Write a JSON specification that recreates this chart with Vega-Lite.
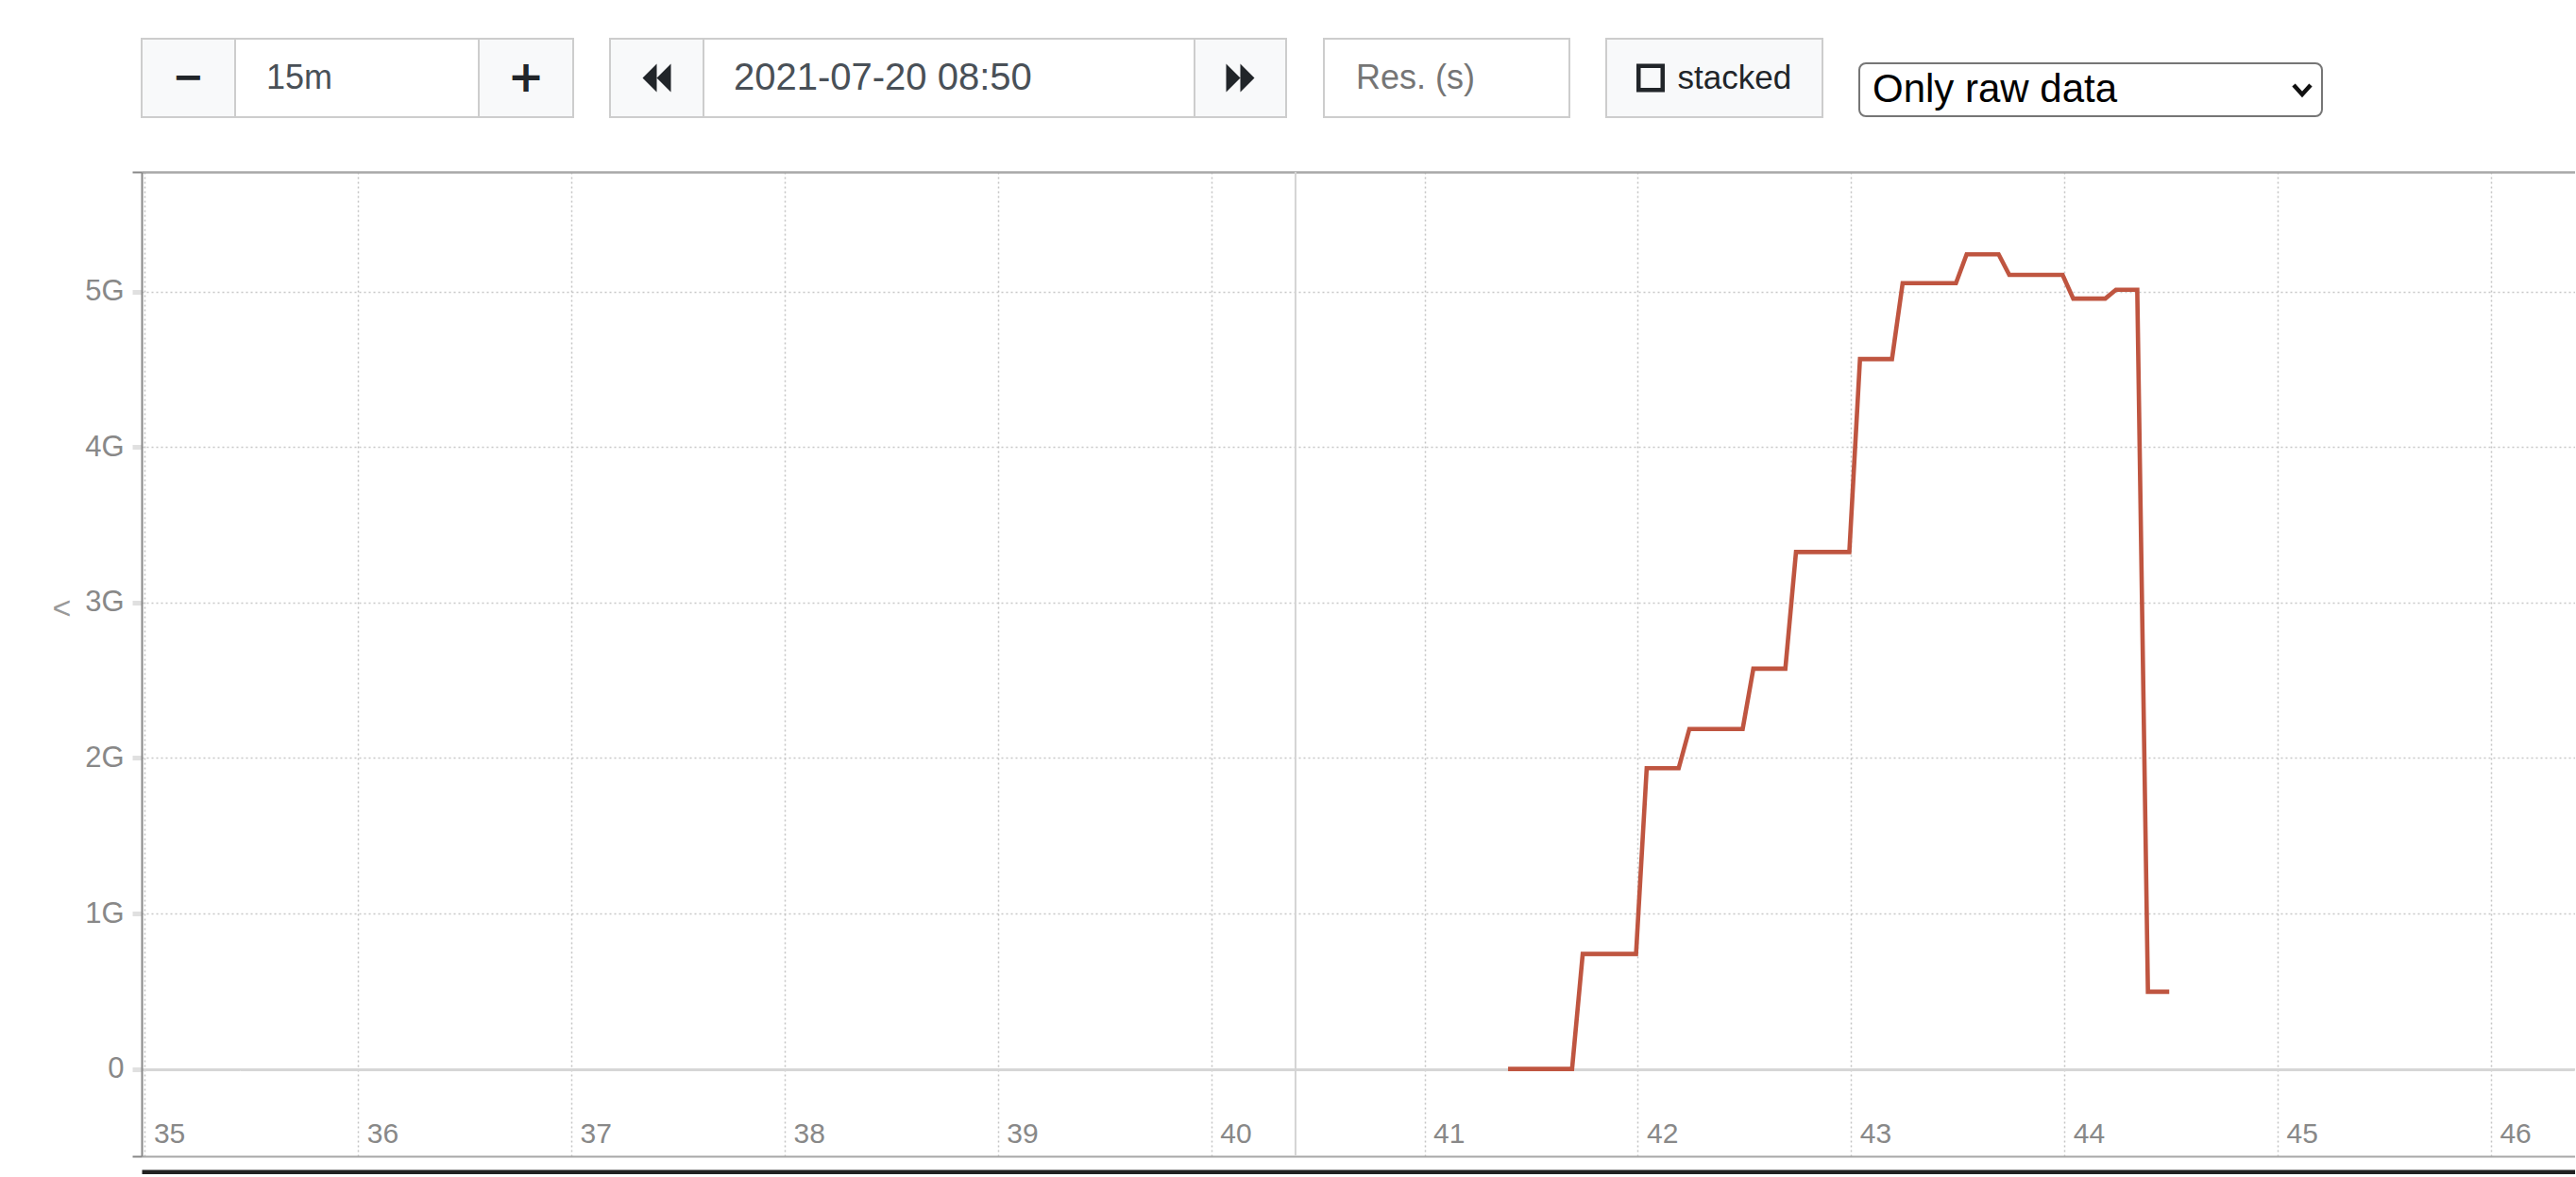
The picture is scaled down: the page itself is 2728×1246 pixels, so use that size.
{
  "$schema": "https://vega.github.io/schema/vega-lite/v6.json",
  "background": "white",
  "padding": {"left": 55, "top": 40, "right": 0, "bottom": 0},
  "config": {"view": {"stroke": null}, "font": "Liberation Sans"},
  "bounds": "flush",
  "spacing": 141,
  "vconcat": [
    {
      "bounds": "flush",
      "spacing": 0,
      "hconcat": [
        {
          "width": 99, "height": 83,
          "view": {"fill": "#f8f9fa", "stroke": "#cdcdcd", "strokeWidth": 2},
          "data": {"values": [{"label": "−"}]},
          "mark": {"type": "text", "font": "DejaVu Sans", "fontWeight": "bold", "fontSize": 40, "fill": "#212529"},
          "encoding": {"text": {"field": "label"}}
        },
        {
          "width": 258, "height": 83,
          "view": {"fill": "white", "stroke": "#cdcdcd", "strokeWidth": 2},
          "data": {"values": [{"label": "15m"}]},
          "mark": {"type": "text", "align": "left", "dx": -96, "fontSize": 36, "fill": "#495057"},
          "encoding": {"text": {"field": "label"}}
        },
        {
          "width": 100, "height": 83,
          "view": {"fill": "#f8f9fa", "stroke": "#cdcdcd", "strokeWidth": 2},
          "data": {"values": [{"label": "+"}]},
          "mark": {"type": "text", "font": "DejaVu Sans", "fontWeight": "bold", "fontSize": 46, "fill": "#212529"},
          "encoding": {"text": {"field": "label"}}
        },
        {
          "width": 39, "height": 83,
          "data": {"values": [{"label": " "}]},
          "mark": {"type": "text"},
          "encoding": {"text": {"field": "label"}}
        },
        {
          "width": 99, "height": 83,
          "view": {"fill": "#f8f9fa", "stroke": "#cdcdcd", "strokeWidth": 2},
          "data": {"values": [{"icon": "backward"}]},
          "mark": {"type": "point", "shape": "M-1,0L0,-1L0,1Z M0,0L1,-1L1,1Z", "filled": true, "fill": "#212529", "strokeWidth": 0, "size": 900, "opacity": 1},
          "encoding": {}
        },
        {
          "width": 520, "height": 83,
          "view": {"fill": "white", "stroke": "#cdcdcd", "strokeWidth": 2},
          "data": {"values": [{"label": "2021-07-20 08:50"}]},
          "mark": {"type": "text", "align": "left", "dx": -228, "fontSize": 40, "fill": "#495057"},
          "encoding": {"text": {"field": "label"}}
        },
        {
          "width": 97, "height": 83,
          "view": {"fill": "#f8f9fa", "stroke": "#cdcdcd", "strokeWidth": 2},
          "data": {"values": [{"icon": "forward"}]},
          "mark": {"type": "point", "shape": "M1,0L0,-1L0,1Z M0,0L-1,-1L-1,1Z", "filled": true, "fill": "#212529", "strokeWidth": 0, "size": 900, "opacity": 1},
          "encoding": {}
        },
        {
          "width": 40, "height": 83,
          "data": {"values": [{"label": " "}]},
          "mark": {"type": "text"},
          "encoding": {"text": {"field": "label"}}
        },
        {
          "width": 260, "height": 83,
          "view": {"fill": "white", "stroke": "#cdcdcd", "strokeWidth": 2},
          "data": {"values": [{"label": "Res. (s)"}]},
          "mark": {"type": "text", "align": "left", "dx": -96, "fontSize": 36, "fill": "#757575"},
          "encoding": {"text": {"field": "label"}}
        },
        {
          "width": 39, "height": 83,
          "data": {"values": [{"label": " "}]},
          "mark": {"type": "text"},
          "encoding": {"text": {"field": "label"}}
        },
        {
          "width": 229, "height": 83,
          "view": {"fill": "#f8f9fa", "stroke": "#cdcdcd", "strokeWidth": 2},
          "data": {"values": [{"label": "stacked"}]},
          "layer": [
            {
              "mark": {"type": "point", "shape": "square", "filled": false, "stroke": "#212529", "strokeWidth": 4.5, "size": 650, "xOffset": -67.5, "opacity": 1},
              "encoding": {}
            },
            {
              "mark": {"type": "text", "align": "left", "dx": -39, "fontSize": 35, "fill": "#212529"},
              "encoding": {"text": {"field": "label"}}
            }
          ]
        },
        {
          "width": 39, "height": 83,
          "data": {"values": [{"label": " "}]},
          "mark": {"type": "text"},
          "encoding": {"text": {"field": "label"}}
        },
        {
          "width": 490, "height": 82,
          "data": {"values": [{"label": "Only raw data"}]},
          "layer": [
            {
              "mark": {"type": "rect", "yOffset": 26, "fill": "white", "stroke": "#767676", "strokeWidth": 2, "cornerRadius": 7},
              "encoding": {}
            },
            {
              "mark": {"type": "text", "align": "left", "dx": -231, "dy": 13, "fontSize": 42, "fill": "#000000"},
              "encoding": {"text": {"field": "label"}}
            },
            {
              "mark": {"type": "point", "shape": "M-1,-0.55L0,0.55L1,-0.55", "filled": false, "stroke": "#111111", "strokeWidth": 4.5, "size": 324, "xOffset": 224, "yOffset": 13, "opacity": 1},
              "encoding": {}
            }
          ]
        }
      ]
    },
    {
      "width": 2577,
      "height": 1042,
      "view": {"stroke": null},
      "resolve": {"axis": {"x": "independent", "y": "independent"}},
      "layer": [
        {
          "data": {"values": [{"time": "2021-07-20T08:40:23.700Z"}]},
          "mark": {"type": "rule", "stroke": "#d4d4d4", "strokeWidth": 2},
          "encoding": {
            "x": {
              "field": "time", "type": "temporal",
              "scale": {"type": "utc", "nice": false, "domain": [1626770099100, 1626770783660]},
              "axis": {"orient": "top", "domain": true, "domainColor": "#a8a8a8", "domainWidth": 2.5, "labels": false, "ticks": false, "grid": false, "title": null}
            },
            "y": {"datum": 5770000000, "type": "quantitative", "scale": {"domain": [-561000000, 5770000000], "nice": false, "zero": false}, "axis": null},
            "y2": {"datum": -561000000}
          }
        },
        {
          "data": {"values": [
            {"time": "2021-07-20T08:41:23.500Z", "bytes": 0},
            {"time": "2021-07-20T08:41:26.500Z", "bytes": 0},
            {"time": "2021-07-20T08:41:29.500Z", "bytes": 0},
            {"time": "2021-07-20T08:41:32.500Z", "bytes": 0},
            {"time": "2021-07-20T08:41:35.500Z", "bytes": 0},
            {"time": "2021-07-20T08:41:38.500Z", "bytes": 0},
            {"time": "2021-07-20T08:41:41.500Z", "bytes": 0},
            {"time": "2021-07-20T08:41:44.500Z", "bytes": 740000000},
            {"time": "2021-07-20T08:41:47.500Z", "bytes": 740000000},
            {"time": "2021-07-20T08:41:50.500Z", "bytes": 740000000},
            {"time": "2021-07-20T08:41:53.500Z", "bytes": 740000000},
            {"time": "2021-07-20T08:41:56.500Z", "bytes": 740000000},
            {"time": "2021-07-20T08:41:59.500Z", "bytes": 740000000},
            {"time": "2021-07-20T08:42:02.500Z", "bytes": 1935000000},
            {"time": "2021-07-20T08:42:05.500Z", "bytes": 1935000000},
            {"time": "2021-07-20T08:42:08.500Z", "bytes": 1935000000},
            {"time": "2021-07-20T08:42:11.500Z", "bytes": 1935000000},
            {"time": "2021-07-20T08:42:14.500Z", "bytes": 2187000000},
            {"time": "2021-07-20T08:42:17.500Z", "bytes": 2187000000},
            {"time": "2021-07-20T08:42:20.500Z", "bytes": 2187000000},
            {"time": "2021-07-20T08:42:23.500Z", "bytes": 2187000000},
            {"time": "2021-07-20T08:42:26.500Z", "bytes": 2187000000},
            {"time": "2021-07-20T08:42:29.500Z", "bytes": 2187000000},
            {"time": "2021-07-20T08:42:32.500Z", "bytes": 2575000000},
            {"time": "2021-07-20T08:42:35.500Z", "bytes": 2575000000},
            {"time": "2021-07-20T08:42:38.500Z", "bytes": 2575000000},
            {"time": "2021-07-20T08:42:41.500Z", "bytes": 2575000000},
            {"time": "2021-07-20T08:42:44.500Z", "bytes": 3325000000},
            {"time": "2021-07-20T08:42:47.500Z", "bytes": 3325000000},
            {"time": "2021-07-20T08:42:50.500Z", "bytes": 3325000000},
            {"time": "2021-07-20T08:42:53.500Z", "bytes": 3325000000},
            {"time": "2021-07-20T08:42:56.500Z", "bytes": 3325000000},
            {"time": "2021-07-20T08:42:59.500Z", "bytes": 3325000000},
            {"time": "2021-07-20T08:43:02.500Z", "bytes": 4566000000},
            {"time": "2021-07-20T08:43:05.500Z", "bytes": 4566000000},
            {"time": "2021-07-20T08:43:08.500Z", "bytes": 4566000000},
            {"time": "2021-07-20T08:43:11.500Z", "bytes": 4566000000},
            {"time": "2021-07-20T08:43:14.500Z", "bytes": 5055000000},
            {"time": "2021-07-20T08:43:17.500Z", "bytes": 5055000000},
            {"time": "2021-07-20T08:43:20.500Z", "bytes": 5055000000},
            {"time": "2021-07-20T08:43:23.500Z", "bytes": 5055000000},
            {"time": "2021-07-20T08:43:26.500Z", "bytes": 5055000000},
            {"time": "2021-07-20T08:43:29.500Z", "bytes": 5055000000},
            {"time": "2021-07-20T08:43:32.500Z", "bytes": 5240000000},
            {"time": "2021-07-20T08:43:35.500Z", "bytes": 5240000000},
            {"time": "2021-07-20T08:43:38.500Z", "bytes": 5240000000},
            {"time": "2021-07-20T08:43:41.500Z", "bytes": 5240000000},
            {"time": "2021-07-20T08:43:44.500Z", "bytes": 5108000000},
            {"time": "2021-07-20T08:43:47.500Z", "bytes": 5108000000},
            {"time": "2021-07-20T08:43:50.500Z", "bytes": 5108000000},
            {"time": "2021-07-20T08:43:53.500Z", "bytes": 5108000000},
            {"time": "2021-07-20T08:43:56.500Z", "bytes": 5108000000},
            {"time": "2021-07-20T08:43:59.500Z", "bytes": 5108000000},
            {"time": "2021-07-20T08:44:02.500Z", "bytes": 4955000000},
            {"time": "2021-07-20T08:44:05.500Z", "bytes": 4955000000},
            {"time": "2021-07-20T08:44:08.500Z", "bytes": 4955000000},
            {"time": "2021-07-20T08:44:11.500Z", "bytes": 4955000000},
            {"time": "2021-07-20T08:44:14.500Z", "bytes": 5012000000},
            {"time": "2021-07-20T08:44:17.500Z", "bytes": 5012000000},
            {"time": "2021-07-20T08:44:20.500Z", "bytes": 5012000000},
            {"time": "2021-07-20T08:44:23.500Z", "bytes": 497000000},
            {"time": "2021-07-20T08:44:26.500Z", "bytes": 497000000},
            {"time": "2021-07-20T08:44:29.500Z", "bytes": 497000000}
          ]},
          "mark": {"type": "line", "stroke": "#bf5540", "strokeWidth": 4.6, "interpolate": "linear"},
          "encoding": {
            "x": {
              "field": "time", "type": "temporal",
              "scale": {"type": "utc", "nice": false, "domain": [1626770099100, 1626770783660]},
              "axis": {
                "orient": "bottom", "title": null,
                "values": [1626770100000, 1626770160000, 1626770220000, 1626770280000, 1626770340000, 1626770400000, 1626770460000, 1626770520000, 1626770580000, 1626770640000, 1626770700000, 1626770760000],
                "format": "%M",
                "domain": true, "domainColor": "#a8a8a8", "domainWidth": 2,
                "ticks": false,
                "grid": true, "gridColor": "#c4c4c4", "gridDash": [2, 3], "gridWidth": 1.5,
                "labelAlign": "left", "labelBaseline": "alphabetic", "labelPadding": -15, "labelOffset": 9,
                "labelFont": "Liberation Sans", "labelFontSize": 30, "labelColor": "#888888",
                "labelFlush": false, "labelOverlap": false, "labelBound": false
              }
            },
            "y": {
              "field": "bytes", "type": "quantitative",
              "scale": {"domain": [-561000000, 5770000000], "nice": false, "zero": false},
              "axis": {
                "orient": "left",
                "values": [-561000000, 0, 1000000000, 2000000000, 3000000000, 4000000000, 5000000000, 5770000000],
                "labelExpr": "datum.value < -100000000 || datum.value > 5500000000 ? '' : format(datum.value, '~s')",
                "domain": true, "domainColor": "#888888", "domainWidth": 2,
                "ticks": true, "tickSize": 10,
                "tickColor": {"condition": {"test": "datum.value < -100000000 || datum.value > 5500000000", "value": "#888888"}, "value": "#e0e0e0"},
                "tickWidth": {"condition": {"test": "datum.value < -100000000 || datum.value > 5500000000", "value": 2}, "value": 5},
                "labelPadding": 9, "labelFont": "Liberation Sans", "labelFontSize": 31, "labelColor": "#888888",
                "labelOverlap": false, "labelFlush": false,
                "grid": true,
                "gridColor": {"condition": {"test": "datum.value === 0", "value": "#d6d6d6"}, "value": "#c8c8c8"},
                "gridDash": {"condition": {"test": "datum.value === 0", "value": [1, 0]}, "value": [2, 3]},
                "gridWidth": {"condition": {"test": "datum.value === 0", "value": 3}, "value": 1.5},
                "gridOpacity": {"condition": {"test": "datum.value < -100000000 || datum.value > 5500000000", "value": 0}, "value": 1},
                "title": "<", "titleAngle": 0, "titleAlign": "left", "titleBaseline": "middle",
                "titleX": -95, "titleY": 462, "titleFont": "Liberation Sans", "titleFontSize": 34,
                "titleFontWeight": "normal", "titleColor": "#999999"
              }
            }
          }
        },
        {
          "data": {"values": [{"time": "2021-07-20T08:40:23.700Z"}]},
          "mark": {"type": "rule", "strokeOpacity": 0},
          "encoding": {
            "x": {
              "field": "time", "type": "temporal",
              "scale": {"type": "utc", "nice": false, "domain": [1626770099100, 1626770783660]},
              "axis": {"orient": "bottom", "offset": 19, "domain": true, "domainColor": "#222222", "domainWidth": 10, "labels": false, "ticks": false, "grid": false, "title": null}
            },
            "y": {"datum": 5770000000, "type": "quantitative", "scale": {"domain": [-561000000, 5770000000], "nice": false, "zero": false}, "axis": null},
            "y2": {"datum": -561000000}
          }
        }
      ]
    }
  ]
}
